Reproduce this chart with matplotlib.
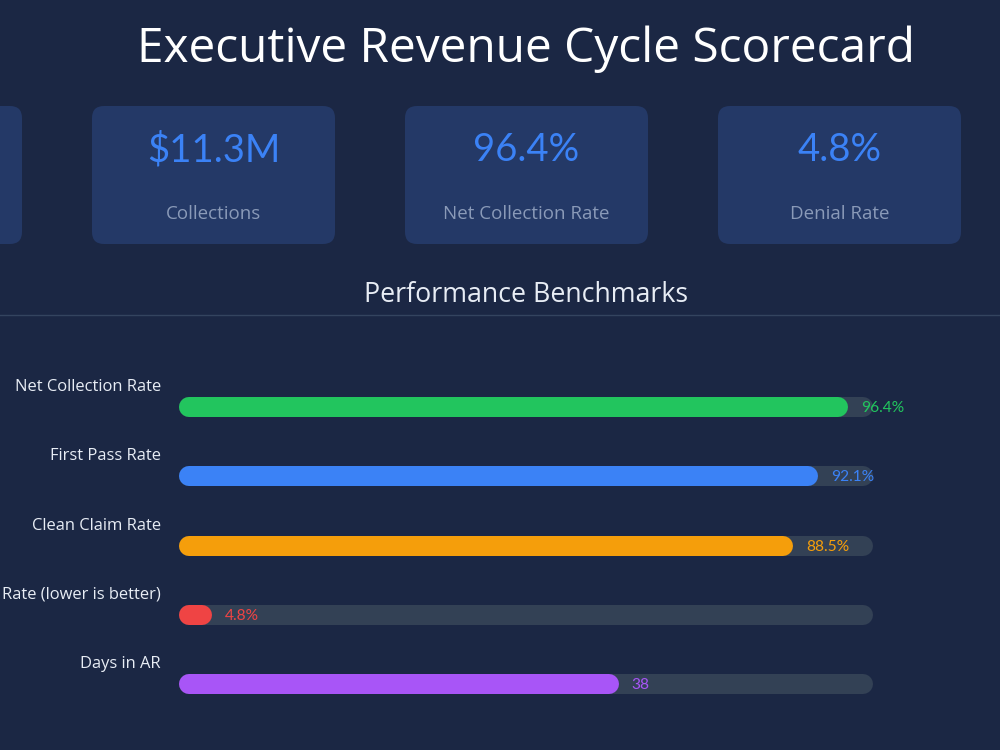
import matplotlib
matplotlib.use("Agg")
import matplotlib.pyplot as plt
from matplotlib.patches import FancyBboxPatch

# ---------------- data ----------------
title = "Executive Revenue Cycle Scorecard"
subtitle = "Performance Benchmarks"
kpi_values = ["", "$11.3M", "96.4%", "4.8%"]
kpi_labels = ["", "Collections", "Net Collection Rate", "Denial Rate"]

categories = ["Net Collection Rate", "First Pass Rate", "Clean Claim Rate",
              "Denial Rate (lower is better)", "Days in AR"]
values = [96.4, 92.1, 88.5, 4.8, 38]
maxima = [100, 100, 100, 100, 60]
value_labels = ["96.4%", "92.1%", "88.5%", "4.8%", "38"]
colors = ["#22c55e", "#3b82f6", "#f59e0b", "#ef4444", "#a855f7"]

# ---------------- style ----------------
BG = "#1b2744"
CARD = "#243967"
TRACK = "#334155"
W, H = 1000, 750
fig = plt.figure(figsize=(10, 7.5), dpi=100, facecolor=BG)

bg = fig.add_axes([0, 0, 1, 1])
bg.set_xlim(0, W)
bg.set_ylim(H, 0)
bg.axis("off")
bg.set_facecolor(BG)

bg.text(526, 62, title, ha="center", va="baseline", color="white",
        fontsize=34.5, family="Open Sans")

# KPI cards
card_w, card_h, gap, first_left, top = 243, 138, 70, -221, 106
for i, (val, lab) in enumerate(zip(kpi_values, kpi_labels)):
    x0 = first_left + i * (card_w + gap)
    bg.add_patch(FancyBboxPatch((x0, top), card_w, card_h,
                                boxstyle="round,pad=0,rounding_size=12",
                                fc=CARD, ec="none"))
    cx = x0 + card_w / 2
    if val:
        bg.text(cx, 161, val, ha="center", va="baseline", color="#3b82f6",
                fontsize=27.5, family="Lato")
    if lab:
        bg.text(cx, 219, lab, ha="center", va="baseline", color="#8a9ab8",
                fontsize=13.5, family="Open Sans")

bg.text(526, 302, subtitle, ha="center", va="baseline", color="#e8edf5",
        fontsize=19.3, family="Open Sans")
bg.plot([0, W], [315, 315], color="#34445f", lw=1)

# ---------------- bars ----------------
left_px, right_px = 179, 873
row_h = 69.3
first_c = 407
top_px = first_c - row_h / 2
bot_px = top_px + row_h * len(categories)
ax = fig.add_axes([left_px / W, 1 - bot_px / H, (right_px - left_px) / W,
                   (bot_px - top_px) / H])
ax.set_xlim(0, 100)
ax.set_ylim(len(categories) - 0.5, -0.5)
ax.axis("off")
ax.patch.set_alpha(0)

bar_px = 20
lw_pt = bar_px * 72 / 100
half = (bar_px / 2) / (right_px - left_px) * 100  # half bar height in data units

for i, (cat, v, m, vl, c) in enumerate(zip(categories, values, maxima,
                                            value_labels, colors)):
    pct = v / m * 100
    ax.plot([half, 100 - half], [i, i], color=TRACK, lw=lw_pt,
            solid_capstyle="round", zorder=1)
    end = max(pct - half, half)
    ax.plot([half, end], [i, i], color=c, lw=lw_pt,
            solid_capstyle="round", zorder=2)
    ax.annotate(vl, xy=(pct, i), xytext=(13, -5), textcoords="offset pixels",
                ha="left", va="baseline", color=c, fontsize=11.2,
                family="Lato", annotation_clip=False, zorder=3)
    ax.annotate(cat, xy=(0, i), xytext=(-18, 16), textcoords="offset pixels",
                ha="right", va="baseline", color="#e8edf5", fontsize=11.9,
                family="Open Sans", annotation_clip=False)

fig.savefig("out.png", dpi=100, facecolor=BG)
